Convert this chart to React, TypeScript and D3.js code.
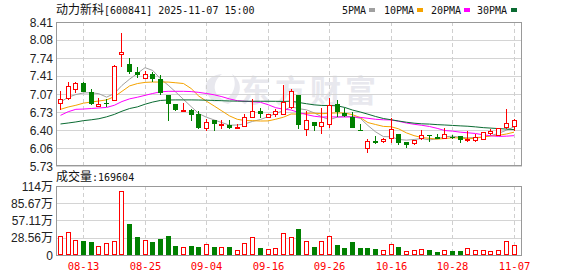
import React from 'react';
import * as d3 from 'd3';

const dates = [
  '08-08','08-11','08-12','08-13','08-14','08-15','08-18','08-19','08-20','08-21','08-22','08-25','08-26','08-27','08-28','08-29',
  '09-01','09-02','09-03','09-04','09-05','09-08','09-09','09-10','09-11','09-12','09-15','09-16','09-17','09-18','09-19','09-22','09-23','09-24','09-25','09-26','09-29','09-30',
  '10-09','10-10','10-13','10-14','10-15','10-16','10-17','10-20','10-21','10-22','10-23','10-24','10-27','10-28','10-29','10-30','10-31',
  '11-03','11-04','11-05','11-06','11-07',
];
const openP = [6.90,7.00,7.17,7.28,7.11,6.84,6.91,6.95,7.82,7.62,7.48,7.37,7.44,7.34,7.05,6.88,6.76,6.78,6.70,6.44,6.58,6.50,6.49,6.43,6.47,6.64,6.75,6.65,6.70,6.70,6.83,7.05,6.41,6.55,6.47,6.51,6.88,6.72,6.64,6.40,6.07,6.20,6.19,6.26,6.32,6.18,6.16,6.25,6.30,6.27,6.26,6.27,6.28,6.21,6.21,6.23,6.35,6.31,6.46,6.47];
const highP = [7.12,7.29,7.30,7.29,7.17,7.00,6.98,7.61,8.21,7.74,7.57,7.50,7.48,7.42,7.05,6.89,6.90,6.79,6.75,6.61,6.58,6.58,6.58,6.51,6.70,6.98,6.81,6.70,6.79,7.23,7.17,7.05,6.75,6.55,6.81,7.00,6.95,6.81,6.74,6.52,6.24,6.29,6.26,6.62,6.32,6.18,6.21,6.40,6.31,6.32,6.43,6.31,6.29,6.38,6.32,6.37,6.41,6.44,6.79,6.60];
const lowP = [6.77,6.96,7.08,7.10,6.87,6.83,6.83,6.94,7.57,7.44,7.37,7.36,7.29,7.06,6.57,6.76,6.76,6.57,6.41,6.38,6.39,6.41,6.41,6.42,6.46,6.63,6.63,6.63,6.65,6.67,6.79,6.41,6.28,6.39,6.33,6.44,6.65,6.65,6.43,6.39,5.97,6.14,6.15,6.15,6.12,6.07,6.12,6.21,6.18,6.23,6.24,6.24,6.16,6.18,6.18,6.21,6.31,6.30,6.41,6.39];
const closeP = [6.98,7.21,7.28,7.11,6.89,6.89,6.90,7.60,7.86,7.48,7.42,7.44,7.34,7.09,6.89,6.77,6.77,6.67,6.44,6.55,6.52,6.52,6.43,6.46,6.65,6.75,6.69,6.69,6.75,6.92,7.12,6.50,6.58,6.47,6.55,6.86,6.74,6.66,6.44,6.39,6.19,6.15,6.23,6.41,6.15,6.13,6.21,6.31,6.29,6.24,6.32,6.26,6.21,6.24,6.27,6.36,6.39,6.43,6.53,6.59];
// volume in 万 (10k)
const volume = [31.4,38.0,24.2,23.1,21.5,14.3,19.3,22.6,105.2,51.8,29.7,24.2,21.5,26.4,31.4,14.9,12.7,14.9,13.2,17.6,13.2,12.7,13.2,7.7,19.3,29.2,11.6,9.4,11.0,35.8,29.2,43.0,22.6,13.2,22.6,30.8,16.5,11.6,21.5,11.6,11.6,9.9,7.7,17.6,13.2,6.1,7.7,9.4,8.3,5.0,7.7,6.6,6.6,11.0,7.7,7.7,6.1,7.7,22.6,16.96];
const volUp = [1,1,1,0,0,1,1,1,1,0,0,1,0,0,0,0,1,0,0,1,0,1,0,1,1,1,0,1,1,1,1,0,1,0,1,1,0,0,0,0,0,0,1,1,0,1,1,1,0,0,1,0,0,1,1,1,1,1,1,1];
const ma5 = [6.92,7.01,7.06,7.09,7.094,7.075,7.012,7.078,7.23,7.348,7.453,7.56,7.508,7.353,7.235,7.105,6.970,6.835,6.705,6.637,6.587,6.538,6.489,6.493,6.514,6.561,6.595,6.648,6.707,6.761,6.834,6.797,6.775,6.719,6.644,6.592,6.639,6.655,6.648,6.617,6.483,6.365,6.278,6.273,6.224,6.211,6.224,6.241,6.216,6.235,6.273,6.285,6.264,6.254,6.260,6.269,6.295,6.338,6.396,6.458];
const ma10 = [6.785,6.828,6.86,6.90,6.92,6.94,6.96,7.02,7.12,7.221,7.264,7.286,7.293,7.292,7.292,7.279,7.265,7.172,7.029,6.936,6.846,6.754,6.662,6.599,6.576,6.574,6.567,6.569,6.600,6.638,6.698,6.696,6.712,6.713,6.703,6.713,6.718,6.715,6.684,6.631,6.538,6.502,6.467,6.461,6.421,6.347,6.295,6.260,6.245,6.230,6.242,6.255,6.253,6.235,6.248,6.271,6.290,6.301,6.325,6.359];
const ma20 = [6.673,6.74,6.785,6.79,6.80,6.81,6.82,6.86,6.93,6.98,7.01,7.045,7.08,7.11,7.12,7.12,7.12,7.115,7.10,7.079,7.055,7.02,6.978,6.946,6.934,6.927,6.916,6.871,6.815,6.787,6.772,6.725,6.687,6.656,6.64,6.644,6.643,6.642,6.642,6.635,6.618,6.599,6.59,6.587,6.562,6.53,6.507,6.488,6.465,6.431,6.39,6.379,6.36,6.348,6.335,6.309,6.293,6.281,6.285,6.295];
const ma30 = [6.512,6.53,6.55,6.574,6.59,6.61,6.645,6.69,6.75,6.80,6.83,6.88,6.92,6.95,6.958,6.96,6.96,6.96,6.958,6.955,6.95,6.945,6.94,6.937,6.935,6.935,6.935,6.935,6.934,6.932,6.936,6.912,6.889,6.868,6.857,6.856,6.850,6.819,6.771,6.735,6.694,6.651,6.614,6.591,6.567,6.545,6.527,6.515,6.51,6.5,6.493,6.485,6.477,6.47,6.458,6.444,6.435,6.426,6.418,6.407];

const priceTicks = [8.41, 8.08, 7.74, 7.41, 7.07, 6.73, 6.40, 6.06, 5.73];
const volTicks = [114, 85.67, 57.11, 28.56, 0];
const volTickLabels = ['114万', '85.67万', '57.11万', '28.56万', '0'];
const dateTicks = ['08-13', '08-25', '09-04', '09-16', '09-26', '10-16', '10-28', '11-07'];
const maNames = ['5PMA', '10PMA', '20PMA', '30PMA'];

const RED = '#ff0000';
const GREEN = '#008000';
const MA_COLORS = ['#a0a0a0', '#f5a300', '#ff00ff', '#0a6b32'];
const MONO = "'DejaVu Sans Mono', 'Liberation Mono', monospace";
const CJK = "'Noto Sans CJK SC', sans-serif";
const SANS = "'Liberation Sans', Arial, sans-serif";

export default function App() {
  const W = 578, H = 276;
  const L = 56, R = 522, T = 22, B = 166, VT = 186, VB = 255;

  const x = d3.scalePoint<string>().domain(dates).range([60.5, 514]);
  const y = d3.scaleLinear().domain([5.73, 8.41]).range([B, T]);
  const yv = d3.scaleLinear().domain([0, 114]).range([VB, VT]);
  const cx = (d: string) => Math.floor(x(d) as number) + 0.5;
  const py = (v: number) => Math.round(y(v));

  const maSeries = [ma5, ma10, ma20, ma30];
  const line = (arr: number[]) =>
    d3.line<number>().x((_, i) => x(dates[i]) as number).y((v) => y(v))(arr) || '';

  const legendX = [342, 384, 431, 477];
  const legendSq = [369, 417, 464, 511];

  return (
    <svg width={W} height={H} style={{ position: 'absolute', left: 0, top: 0, background: '#fff' }}>
      <rect x={0} y={0} width={W} height={H} fill="#fff" />
      {/* title */}
      <text x={56} y={14} fontSize={12} fill="#111">
        <tspan fontFamily={CJK}>动力新科</tspan>
        <tspan fontFamily={MONO} fontSize={10}>[600841] 2025-11-07 15:00</tspan>
      </text>
      {/* legend */}
      {maNames.map((n, k) => (
        <g key={n}>
          <text x={legendX[k]} y={14} fontFamily={MONO} fontSize={10} fill="#111">{n}</text>
          <rect x={legendSq[k]} y={8} width={6} height={4} fill={MA_COLORS[k]} />
        </g>
      ))}

      {/* watermark */}
      <g opacity={1}>
        <path d="M214,102 C200,90 204,76 222,74 C212,82 212,94 224,100 Z" fill="#e8e8ee" />
        <path d="M222,102 C234,96 238,84 232,74 C244,82 242,98 228,104 Z" fill="#e8e8ee" />
        <text x={240} y={102} fontFamily={CJK} fontSize={31} fontWeight={700} fill="#e8e8ee" letterSpacing={4}>东方财富</text>
      </g>

      {/* main grid */}
      {priceTicks.map((p, k) => (
        <line key={'g' + k} x1={L} x2={R} y1={py(p) + 0.5} y2={py(p) + 0.5} stroke="#d4d4d4" strokeWidth={1} />
      ))}
      {dateTicks.map((d) => (
        <g key={'v' + d}>
          <line x1={cx(d)} x2={cx(d)} y1={T} y2={B} stroke="#cfcfcf" strokeDasharray="4,3" />
          <line x1={cx(d)} x2={cx(d)} y1={VT} y2={VB} stroke="#cfcfcf" strokeDasharray="4,3" />
        </g>
      ))}

      {/* MA lines */}
      {maSeries.map((arr, k) => (
        <path key={'ma' + k} d={line(arr)} fill="none" stroke={MA_COLORS[k]} strokeWidth={1} />
      ))}

      {/* candles */}
      {dates.map((d, i) => {
        const o = openP[i], c = closeP[i], h = highP[i], l = lowP[i];
        const up = c > o;
        const X = cx(d);
        const top = py(Math.max(o, c));
        const bot = py(Math.min(o, c));
        const col = up ? RED : GREEN;
        return (
          <g key={'c' + i}>
            <line x1={X} x2={X} y1={py(h)} y2={py(l)} stroke={col} strokeWidth={1} />
            {up ? (
              <rect x={X - 2} y={top + 0.5} width={4} height={Math.max(1, bot - top)} fill="#fff" stroke={col} strokeWidth={1} />
            ) : (
              <rect x={X - 2.5} y={top} width={5} height={Math.max(1, bot - top)} fill={col} />
            )}
          </g>
        );
      })}

      {/* main border */}
      <rect x={L + 0.5} y={T + 0.5} width={R - L - 1} height={B - T - 1} fill="none" stroke="#999" strokeWidth={1} />

      {/* price labels */}
      {priceTicks.map((p, k) => (
        <text key={'pl' + k} x={53} y={y(p) + 4.5} textAnchor="end" fontFamily={SANS} fontSize={12} fill="#222">
          {p.toFixed(2)}
        </text>
      ))}

      {/* volume section */}
      <text x={56} y={181} fontSize={12} fill="#111">
        <tspan fontFamily={CJK}>成交量</tspan>
        <tspan fontFamily={MONO} fontSize={10}>:169604</tspan>
      </text>
      {volTicks.map((v, k) => (
        <line key={'vg' + k} x1={L} x2={R} y1={Math.round(yv(v)) + 0.5} y2={Math.round(yv(v)) + 0.5} stroke="#d4d4d4" />
      ))}
      {dates.map((d, i) => {
        const X = cx(d);
        const top = Math.round(yv(volume[i]));
        return volUp[i] ? (
          <rect key={'vb' + i} x={X - 2} y={top + 0.5} width={4} height={VB - top - 1} fill="#fff" stroke={RED} strokeWidth={1} />
        ) : (
          <rect key={'vb' + i} x={X - 2.5} y={top} width={5} height={VB - top} fill={GREEN} />
        );
      })}
      <rect x={L + 0.5} y={VT + 0.5} width={R - L - 1} height={VB - VT} fill="none" stroke="#999" strokeWidth={1} />
      {volTicks.map((v, k) => (
        <text key={'vl' + k} x={53} y={yv(v) + 4.5} textAnchor="end" fontSize={12} fill="#222">
          <tspan fontFamily={SANS}>{volTickLabels[k].replace('万', '')}</tspan>
          {volTickLabels[k].includes('万') ? <tspan fontFamily={CJK}>万</tspan> : null}
        </text>
      ))}

      {/* date labels */}
      {dateTicks.map((d) => (
        <text key={'dl' + d} x={cx(d)} y={270} textAnchor="middle" fontFamily={MONO} fontSize={10.5} fill={RED}>
          {d}
        </text>
      ))}
    </svg>
  );
}
